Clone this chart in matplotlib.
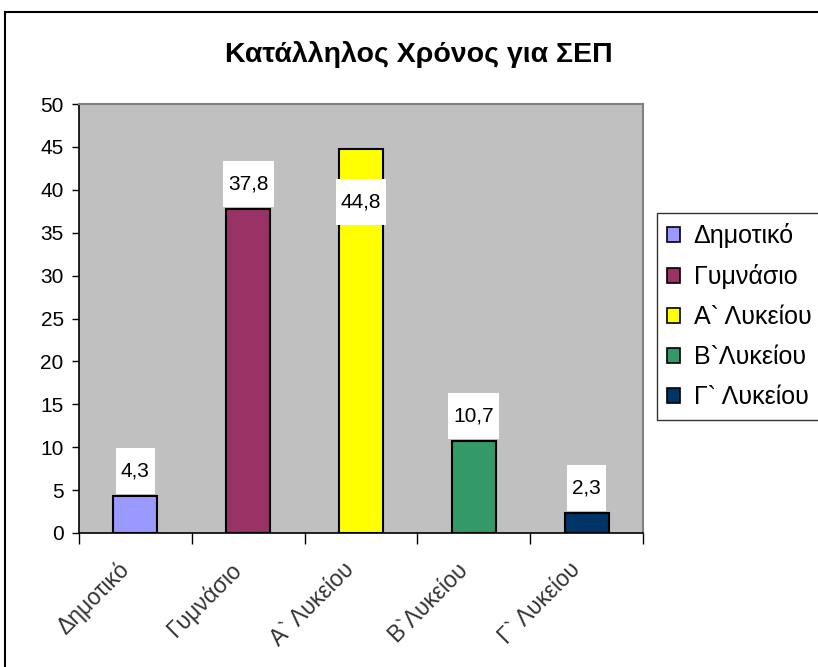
import matplotlib
matplotlib.use("Agg")
import matplotlib.pyplot as plt
from matplotlib.patches import Patch, Rectangle
from matplotlib.transforms import ScaledTranslation

plt.rcParams['font.family'] = ['Liberation Sans', 'DejaVu Sans']

categories = ["Δημοτικό", "Γυμνάσιο", "Α` Λυκείου", "Β`Λυκείου", "Γ` Λυκείου"]
values = [4.3, 37.8, 44.8, 10.7, 2.3]
value_labels = ["4,3", "37,8", "44,8", "10,7", "2,3"]
colors = ["#9999FF", "#993366", "#FFFF00", "#339966", "#003366"]
yticks = [0, 5, 10, 15, 20, 25, 30, 35, 40, 45, 50]
title = "Κατάλληλος Χρόνος για ΣΕΠ"

fig = plt.figure(figsize=(8.18, 6.67), dpi=100)
fig.patch.set_facecolor("white")
# outer chart border
fig.add_artist(Rectangle((0.006, -0.02), 1.1, 1.002, transform=fig.transFigure,
                         fill=False, edgecolor="black", linewidth=1.5))

ax = fig.add_axes([0.0966, 0.2009, 0.6895, 0.6431])
ax.set_facecolor("#C0C0C0")
x = list(range(len(categories)))
ax.bar(x, values, width=0.39, color=colors, edgecolor="black", linewidth=1.5, zorder=3)
ax.set_xlim(-0.5, len(categories) - 0.5)
ax.set_ylim(0, 50)
ax.set_yticks(yticks)
ax.tick_params(axis='y', labelsize=15, length=5, width=1, direction='out', pad=6)
ax.set_xticks(x)
ax.set_xticklabels(categories, rotation=45, ha='right', va='center',
                   rotation_mode='anchor', fontsize=16.5, color="#333333")
ax.tick_params(axis='x', which='major', length=0, pad=24)
shift = ScaledTranslation(-0.10, 0, fig.dpi_scale_trans)
for lab in ax.get_xticklabels():
    lab.set_transform(lab.get_transform() + shift)
ax.set_xticks([i - 0.5 for i in range(len(categories) + 1)], minor=True)
ax.tick_params(axis='x', which='minor', length=8, width=1, direction='out')
for s in ['left', 'bottom']:
    ax.spines[s].set_color('black')
    ax.spines[s].set_linewidth(1.2)
for s in ['top', 'right']:
    ax.spines[s].set_color('#808080')
    ax.spines[s].set_linewidth(1.5)

for i, (v, lab) in enumerate(zip(values, value_labels)):
    off = -38.5 if v > 42 else 18
    ax.annotate(lab, (i, v), xytext=(0, off), textcoords='offset points',
                ha='center', va='center', fontsize=15, zorder=5,
                bbox=dict(boxstyle='square,pad=0.25', facecolor='white',
                          edgecolor='none', mutation_aspect=2.6))

fig.text(0.512, 0.919, title, ha='center', va='center', fontsize=20.5, fontweight='bold')

handles = [Patch(facecolor=c, edgecolor='black', linewidth=1.2) for c in colors]
leg = fig.legend(handles, categories, loc='upper left', bbox_to_anchor=(0.803, 0.681),
                 fontsize=18, frameon=True, fancybox=False, edgecolor='black',
                 handlelength=0.5, handleheight=0.5, handletextpad=0.55,
                 labelspacing=0.64, borderpad=0.42, borderaxespad=0)
leg.get_frame().set_linewidth(1.0)

fig.savefig("out.png", dpi=100)
